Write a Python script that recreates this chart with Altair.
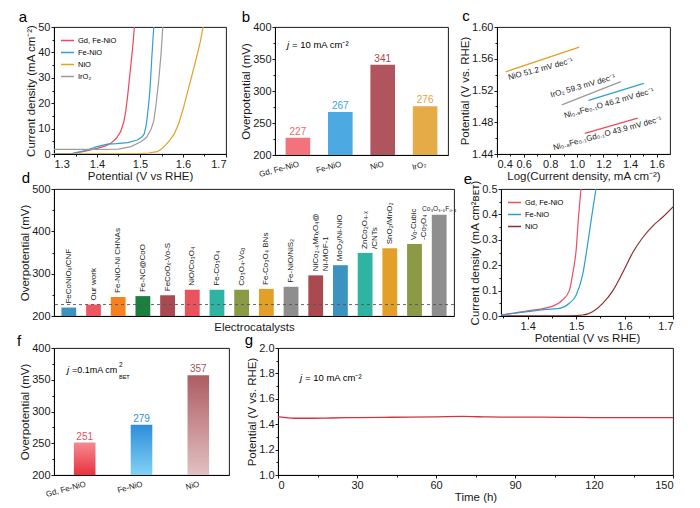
import altair as alt
import pandas as pd

F = "Liberation Sans"

# ---------------- data ----------------
A_SERIES = ["Gd, Fe-NiO", "Fe-NiO", "NiO", "IrO₂"]
A_COLORS = ["#e94b5d", "#2f9fd6", "#e5a126", "#9b9b9b"]
a_gd_v = [1.300, 1.347, 1.370, 1.400, 1.420, 1.432, 1.445, 1.455, 1.462, 1.467, 1.471, 1.475, 1.479, 1.483, 1.487]
a_gd_j = [0.2, 0.3, 1.0, 2.2, 3.2, 4.2, 6.2, 8.8, 12.5, 17.0, 22.5, 29.0, 35.5, 42.0, 50.0]
a_fe_v = [1.300, 1.343, 1.370, 1.400, 1.424, 1.445, 1.471, 1.494, 1.505, 1.510, 1.514, 1.517, 1.521, 1.524, 1.528, 1.532]
a_fe_j = [0.2, 0.3, 1.2, 2.9, 3.9, 4.1, 4.5, 5.5, 6.8, 8.0, 11.0, 14.7, 21.0, 27.7, 39.5, 50.0]
a_ni_v = [1.300, 1.450, 1.500, 1.520, 1.540, 1.550, 1.560, 1.570, 1.580, 1.590, 1.600, 1.610, 1.620, 1.630, 1.640, 1.647]
a_ni_j = [0.0, 0.05, 0.2, 0.4, 0.9, 2.0, 3.6, 5.6, 8.0, 12.0, 17.5, 24.0, 30.5, 37.0, 44.0, 50.0]
a_ir_v = [1.300, 1.400, 1.450, 1.479, 1.502, 1.515, 1.525, 1.532, 1.537, 1.543, 1.549, 1.553]
a_ir_j = [1.8, 1.8, 1.9, 2.9, 4.8, 6.5, 9.4, 13.0, 19.0, 28.0, 39.5, 50.0]

B_CATS = ["Gd, Fe-NiO", "Fe-NiO", "NiO", "IrO₂"]
B_VALS = [227, 267, 341, 276]
B_COLORS = ["#f26671", "#3ea2de", "#a9474f", "#e3a436"]

C_SERIES = ["NiO", "IrO₂", "Ni₀.₉Fe₀.₁O", "Ni₀.₈Fe₀.₁Gd₀.₁O"]
C_COLORS = ["#e5a126", "#9b9b9b", "#2f9fd6", "#e94b5d"]
c_x_start = [0.465, 0.887, 1.088, 1.060]
c_x_end = [1.018, 1.330, 1.503, 1.457]
c_y_start = [1.5436, 1.5018, 1.5077, 1.4660]
c_y_end = [1.5745, 1.5311, 1.5290, 1.4851]
C_LABELS = ["NiO 51.2 mV dec⁻¹", "IrO₂ 59.3 mV dec⁻¹", "Ni₀.₉Fe₀.₁O 46.2 mV dec⁻¹", "Ni₀.₈Fe₀.₁Gd₀.₁O 43.9 mV dec⁻¹"]
c_label_x = [0.728, 1.046, 1.242, 1.231]
c_label_y = [1.5465, 1.5252, 1.5035, 1.4655]
c_label_angle = [345, 344, 344, 345]

D_NAMES = ["FeCoNiOₓ/CNF", "Our work", "Fe-NiO-Ni CHNAs", "Fe-NC@CoO", "FeCoOₓ-Vo-S",
           "NiO/Co₃O₄", "Fe-Co₃O₄", "Co₃O₄-Vᴄₒ", "Fe-Co₃O₄ BNs", "Fe-NiO/NiS₂",
           "NiCo₂₋ₓMnₓO₄@\nNi-MOF-1", "MoO₂/Ni-NiO", "ZnCo₂O₄₋ₓ\n/CNTs", "SnO₂/MnO₂",
           "Vₒ-Cubic\n-Co₃O₄", "Co₃O₃.₆F₀.₄"]
D_VALS = [220, 227, 245, 247, 249, 262, 262, 262, 264, 269, 296, 320, 349, 360, 370, 439]
D_COLORS = ["#3d93c0", "#ef5663", "#f58220", "#1b7f3e", "#a94950", "#e9535c", "#2fb3a3", "#8a9a45",
            "#e2a028", "#8e8e8e", "#a94950", "#3d93c0", "#2fb3a3", "#e2a028", "#8a9a45", "#8e8e8e"]

E_SERIES = ["Gd, Fe-NiO", "Fe-NiO", "NiO"]
E_COLORS = ["#ea4f62", "#2b9fd5", "#8e2f2f"]
e_gd_v = [1.345, 1.400, 1.452, 1.472, 1.486, 1.493, 1.500, 1.505, 1.510]
e_gd_j = [0.004, 0.020, 0.039, 0.063, 0.100, 0.167, 0.258, 0.390, 0.500]
e_fe_v = [1.345, 1.400, 1.438, 1.466, 1.486, 1.500, 1.514, 1.524, 1.534, 1.541]
e_fe_j = [0.004, 0.017, 0.026, 0.030, 0.050, 0.082, 0.167, 0.285, 0.415, 0.500]
e_ni_v = [1.345, 1.486, 1.514, 1.534, 1.555, 1.576, 1.597, 1.617, 1.638, 1.659, 1.679, 1.700]
e_ni_j = [0.000, 0.001, 0.004, 0.017, 0.050, 0.100, 0.174, 0.250, 0.310, 0.356, 0.390, 0.430]

F_CATS = ["Gd, Fe-NiO", "Fe-NiO", "NiO"]
F_VALS = [251, 279, 357]
F_TEXT_COLORS = ["#e8505c", "#2f8fd6", "#a4545a"]
F_GRAD_TOP = ["#f58a90", "#2e8dd8", "#ad5d62"]
F_GRAD_BOTTOM = ["#e8323f", "#80d2f6", "#e2c0c1"]

G_T = [0, 3, 6, 10, 20, 30, 40, 50, 60, 70, 80, 90, 100, 110, 120, 130, 140, 150]
G_V = [1.458, 1.452, 1.447, 1.447, 1.449, 1.452, 1.454, 1.456, 1.458, 1.461, 1.457,
       1.455, 1.455, 1.454, 1.452, 1.452, 1.452, 1.452]

# ---------------- helpers ----------------
def minor_layer(xs=None, ys=None, xscale=None, yscale=None):
    d, enc = {}, {}
    if xs is not None:
        d["mx"] = [xs[0]]
        enc["x"] = alt.X("mx:Q", scale=xscale, axis=alt.Axis(values=xs, labels=False, tickSize=2,
                                                           domain=False, title=None, orient="bottom"))
    if ys is not None:
        d["my"] = [ys[0]]
        enc["y"] = alt.Y("my:Q", scale=yscale, axis=alt.Axis(values=ys, labels=False, tickSize=2,
                                                           domain=False, title=None, orient="left"))
    return alt.Chart(pd.DataFrame(d)).mark_point(opacity=0).encode(**enc)


def note(t, x, y, size=15, italic=False, color="black", align="center"):
    return alt.Chart(pd.DataFrame({"t": [t]})).mark_text(
        fontSize=size, align=align, baseline="alphabetic", color=color, font=F,
        fontStyle="italic" if italic else "normal"
    ).encode(text="t:N", x=alt.value(x), y=alt.value(y))


def legend_in():
    return alt.Legend(orient="top-left", title=None, symbolType="stroke", symbolSize=170,
                      symbolStrokeWidth=1.5, labelFontSize=7.5, labelFont=F, rowPadding=1,
                      offset=6, padding=0, labelOffset=3)

# ---------------- panel a ----------------
a_df = pd.concat([pd.DataFrame({"sa": n, "v": v, "j": j}) for n, v, j in
                  zip(A_SERIES, [a_gd_v, a_fe_v, a_ni_v, a_ir_v], [a_gd_j, a_fe_j, a_ni_j, a_ir_j])])
xs_a = alt.Scale(domain=[1.3, 1.7], nice=False, zero=False)
ys_a = alt.Scale(domain=[0, 50], nice=False)
a_lines = alt.Chart(a_df).mark_line(strokeWidth=1.2, clip=True).encode(
    x=alt.X("v:Q", scale=xs_a, axis=alt.Axis(values=[1.3, 1.4, 1.5, 1.6, 1.7], format=".1f",
                                             title="Potential (V vs RHE)", orient="bottom")),
    y=alt.Y("j:Q", scale=ys_a, axis=alt.Axis(values=[0, 10, 20, 30, 40, 50],
                                             title="Current density (mA cm⁻²)", orient="left")),
    color=alt.Color("sa:N", scale=alt.Scale(domain=A_SERIES, range=A_COLORS), legend=legend_in()),
)
pa = alt.layer(
    a_lines,
    minor_layer([1.35, 1.45, 1.55, 1.65], [5, 15, 25, 35, 45], xs_a, ys_a),
    note("a", -31, -5),
).resolve_axis(x="independent", y="independent").properties(width=172, height=127)

# ---------------- panel b ----------------
b_df = pd.DataFrame({"cb": B_CATS, "v": B_VALS})
xb = alt.Scale(domain=B_CATS, paddingInner=0.42, paddingOuter=0.25)
yb = alt.Scale(domain=[200, 400], nice=False, zero=False)
cb = alt.Scale(domain=B_CATS, range=B_COLORS)
b_bars = alt.Chart(b_df).mark_bar(opacity=0.92).encode(
    x=alt.X("cb:N", scale=xb, sort=B_CATS, axis=alt.Axis(title=None, labelAngle=345, labelAlign="right",
                                                        labelBaseline="top", labelFontSize=8, ticks=False,
                                                        labelPadding=5, orient="bottom")),
    y=alt.Y("v:Q", scale=yb, axis=alt.Axis(values=[200, 250, 300, 350, 400],
                                           title="Overpotential (mV)", orient="left")),
    y2=alt.datum(200),
    color=alt.Color("cb:N", scale=cb, legend=None),
)
b_text = alt.Chart(b_df).mark_text(dy=-3, fontSize=10, baseline="alphabetic", font=F).encode(
    x=alt.X("cb:N", scale=xb, sort=B_CATS, axis=None),
    y=alt.Y("v:Q", scale=yb, axis=None),
    text="v:Q",
    color=alt.Color("cb:N", scale=cb, legend=None),
)
pb = alt.layer(
    b_bars, b_text,
    minor_layer(None, [225, 275, 325, 375], None, yb),
    note("j", 12, 21, size=9.5, italic=True, align="left"),
    note("= 10 mA cm⁻²", 17, 21, size=9.5, align="left"),
    note("b", -29, -5),
).resolve_axis(x="independent", y="independent").properties(width=173, height=128)

# ---------------- panel c ----------------
c_df = pd.DataFrame({"sc": C_SERIES, "x1": c_x_start, "x2": c_x_end, "y1": c_y_start, "y2": c_y_end,
                     "lab": C_LABELS, "lx": c_label_x, "ly": c_label_y, "ang": c_label_angle})
xs_c = alt.Scale(domain=[0.4, 1.7], nice=False, zero=False)
ys_c = alt.Scale(domain=[1.44, 1.60], nice=False, zero=False)
cc = alt.Scale(domain=C_SERIES, range=C_COLORS)
c_lines = alt.Chart(c_df).mark_rule(strokeWidth=1.3).encode(
    x=alt.X("x1:Q", scale=xs_c, axis=alt.Axis(values=[0.4, 0.6, 0.8, 1.0, 1.2, 1.4, 1.6], format=".1f",
                                              title="Log(Current density, mA cm⁻²)", orient="bottom")),
    x2="x2:Q",
    y=alt.Y("y1:Q", scale=ys_c, axis=alt.Axis(values=[1.44, 1.48, 1.52, 1.56, 1.60], format=".2f",
                                              title="Potential (V vs. RHE)", orient="left")),
    y2="y2:Q",
    color=alt.Color("sc:N", scale=cc, legend=None),
)
c_text = alt.Chart(c_df).mark_text(fontSize=8, font=F, color="#222").encode(
    x=alt.X("lx:Q", scale=xs_c, axis=None),
    y=alt.Y("ly:Q", scale=ys_c, axis=None),
    text="lab:N",
    angle=alt.Angle("ang:Q", scale=None),
)
pc = alt.layer(
    c_lines, c_text,
    minor_layer([0.5, 0.7, 0.9, 1.1, 1.3, 1.5], [1.46, 1.50, 1.54, 1.58], xs_c, ys_c),
    note("c", -31, -6),
).resolve_axis(x="independent", y="independent").properties(width=173, height=127)

# ---------------- panel d ----------------
d_df = pd.DataFrame({"i": list(range(len(D_NAMES))), "n": D_NAMES, "v": D_VALS})
xd = alt.Scale(domain=list(range(len(D_NAMES))), paddingInner=0.4, paddingOuter=0.3)
yd = alt.Scale(domain=[200, 500], nice=False, zero=False)
cd = alt.Scale(domain=list(range(len(D_NAMES))), range=D_COLORS)
d_bars = alt.Chart(d_df).mark_bar().encode(
    x=alt.X("i:O", scale=xd, axis=alt.Axis(labels=False, ticks=False, title="Electrocatalysts",
                                           titlePadding=5, orient="bottom")),
    y=alt.Y("v:Q", scale=yd, axis=alt.Axis(values=[200, 300, 400, 500], title="Overpotential (mV)",
                                           orient="left")),
    y2=alt.datum(200),
    color=alt.Color("i:O", scale=cd, legend=None),
)
d_labels = alt.Chart(d_df).transform_filter(alt.datum.i < 15).mark_text(
    angle=270, align="left", baseline="middle", dx=4, fontSize=8, font=F, lineBreak="\n", color="#222"
).encode(
    x=alt.X("i:O", scale=xd, axis=None),
    y=alt.Y("v:Q", scale=yd, axis=None),
    text="n:N",
)
d_last = alt.Chart(d_df).transform_filter(alt.datum.i == 15).mark_text(
    align="center", baseline="alphabetic", dy=-4, fontSize=6.5, font=F, color="#222"
).encode(
    x=alt.X("i:O", scale=xd, axis=None),
    y=alt.Y("v:Q", scale=yd, axis=None),
    text="n:N",
)
d_rule = alt.Chart(pd.DataFrame({"r": [D_VALS[1]]})).mark_rule(
    strokeDash=[3, 3], color="#555", strokeWidth=0.9
).encode(y=alt.Y("r:Q", scale=yd, axis=None))
pdd = alt.layer(
    d_bars, d_rule, d_labels, d_last,
    minor_layer(None, [250, 350, 450], None, yd),
    note("d", -28, -6),
).resolve_axis(x="independent", y="independent").properties(width=400, height=127)

# ---------------- panel e ----------------
e_df = pd.concat([pd.DataFrame({"se": n, "v": v, "j": j}) for n, v, j in
                  zip(E_SERIES, [e_gd_v, e_fe_v, e_ni_v], [e_gd_j, e_fe_j, e_ni_j])])
xs_e = alt.Scale(domain=[1.345, 1.7], nice=False, zero=False)
ys_e = alt.Scale(domain=[0, 0.5], nice=False)
e_lines = alt.Chart(e_df).mark_line(strokeWidth=1.2, clip=True, interpolate="monotone").encode(
    x=alt.X("v:Q", scale=xs_e, axis=alt.Axis(values=[1.4, 1.5, 1.6, 1.7], format=".1f",
                                             title="Potential (V vs RHE)", orient="bottom")),
    y=alt.Y("j:Q", scale=ys_e, axis=alt.Axis(values=[0, 0.1, 0.2, 0.3, 0.4, 0.5], format=".1f",
                                             title="Current density (mA cm²ʙᴇᴛ)", orient="left")),
    color=alt.Color("se:N", scale=alt.Scale(domain=E_SERIES, range=E_COLORS), legend=legend_in()),
)
pe = alt.layer(
    e_lines,
    minor_layer([1.35, 1.45, 1.55, 1.65], [0.05, 0.15, 0.25, 0.35, 0.45], xs_e, ys_e),
    note("e", -33, -5),
).resolve_axis(x="independent", y="independent").properties(width=172, height=127)

# ---------------- panel f ----------------
f_df = pd.DataFrame({"cf": F_CATS, "v": F_VALS})
xf = alt.Scale(domain=F_CATS, paddingInner=0.62, paddingOuter=0.35)
yf = alt.Scale(domain=[200, 400], nice=False, zero=False)
cf = alt.Scale(domain=F_CATS, range=F_TEXT_COLORS)
f_layers = []
for k, cat in enumerate(F_CATS):
    grad = alt.Gradient(gradient="linear",
                        stops=[alt.GradientStop(color=F_GRAD_TOP[k], offset=0),
                               alt.GradientStop(color=F_GRAD_BOTTOM[k], offset=1)],
                        x1=0, x2=0, y1=0, y2=1)
    enc_x = alt.X("cf:N", scale=xf, sort=F_CATS,
                  axis=alt.Axis(title=None, labelAngle=345, labelAlign="right", labelBaseline="top",
                                labelFontSize=8, ticks=False, labelPadding=5, orient="bottom")) if k == 0 \
        else alt.X("cf:N", scale=xf, sort=F_CATS, axis=None)
    enc_y = alt.Y("v:Q", scale=yf, axis=alt.Axis(values=[200, 250, 300, 350, 400],
                                                 title="Overpotential (mV)", orient="left")) if k == 0 \
        else alt.Y("v:Q", scale=yf, axis=None)
    f_layers.append(
        alt.Chart(f_df).transform_filter(alt.datum.cf == cat).mark_bar(color=grad).encode(
            x=enc_x, y=enc_y, y2=alt.datum(200))
    )
f_text = alt.Chart(f_df).mark_text(dy=-3, fontSize=10, baseline="alphabetic", font=F).encode(
    x=alt.X("cf:N", scale=xf, sort=F_CATS, axis=None),
    y=alt.Y("v:Q", scale=yf, axis=None),
    text="v:Q",
    color=alt.Color("cf:N", scale=cf, legend=None),
)
pf = alt.layer(
    *f_layers, f_text,
    minor_layer(None, [225, 275, 325, 375], None, yf),
    note("j", 13, 25, size=9.5, italic=True, align="left"),
    note("=0.1mA cm", 18, 25, size=9, align="left"),
    note("2", 65, 19, size=6.5, align="left"),
    note("BET", 65, 31, size=5.5, align="left"),
    note("f", -35, -2),
).resolve_axis(x="independent", y="independent").properties(width=175, height=127)

# ---------------- panel g ----------------
g_df = pd.DataFrame({"t": G_T, "v": G_V})
xs_g = alt.Scale(domain=[0, 150], nice=False)
ys_g = alt.Scale(domain=[1.0, 2.0], nice=False, zero=False)
g_line = alt.Chart(g_df).mark_line(color="#d9303f", strokeWidth=1.3, interpolate="monotone").encode(
    x=alt.X("t:Q", scale=xs_g, axis=alt.Axis(values=[0, 30, 60, 90, 120, 150], title="Time (h)",
                                             orient="bottom")),
    y=alt.Y("v:Q", scale=ys_g, axis=alt.Axis(values=[1.0, 1.2, 1.4, 1.6, 1.8, 2.0], format=".1f",
                                             title="Potential (V vs. RHE)", orient="left")),
)
pg = alt.layer(
    g_line,
    minor_layer([15, 45, 75, 105, 135], [1.1, 1.3, 1.5, 1.7, 1.9], xs_g, ys_g),
    note("j", 22, 33, size=9.5, italic=True, align="left"),
    note("= 10 mA cm⁻²", 27, 33, size=9.5, align="left"),
    note("g", -29, -3),
).resolve_axis(x="independent", y="independent").properties(width=395, height=127)

# ---------------- layout ----------------
row1 = alt.hconcat(pa, pb, pc, spacing=49, bounds="flush").resolve_scale(color="independent")
row2 = alt.hconcat(pdd, pe, spacing=47, bounds="flush").resolve_scale(color="independent")
row3 = alt.hconcat(pf, pg, spacing=49, bounds="flush").resolve_scale(color="independent")
chart = alt.vconcat(row1, row2, row3, spacing=-12).resolve_scale(color="independent").properties(
    padding={"left": 8, "top": 0, "right": 2, "bottom": 2}
).configure_view(stroke="black", strokeWidth=0.9).configure_axis(
    domainColor="black", tickColor="black", labelColor="#1a1a1a", titleColor="#1a1a1a",
    labelFont=F, titleFont=F, labelFontSize=11, titleFontSize=11.5, titleFontWeight="normal",
    grid=False, tickSize=3, domainWidth=0.9, tickWidth=0.9, labelPadding=1, titlePadding=1
).configure_text(font=F)

chart.save("out.html", embed_options={"renderer": "svg", "actions": False})
